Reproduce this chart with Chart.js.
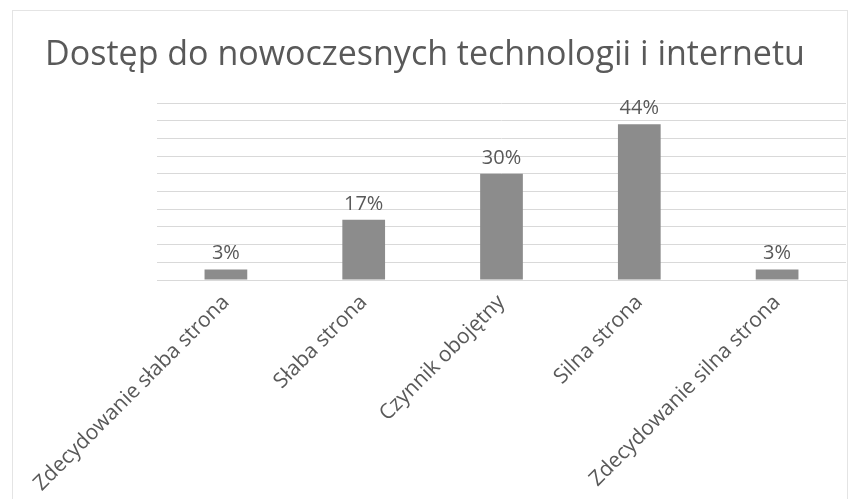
<!DOCTYPE html>
<html>
<head>
<meta charset="utf-8">
<script src="https://cdn.jsdelivr.net/npm/chart.js@4.4.1/dist/chart.umd.min.js"></script>
<style>
    html, body { margin: 0; padding: 0; background: #ffffff; }
    #wrap { position: relative; width: 849px; height: 499px; }
    #frame {
        position: absolute; left: 12px; top: 10px; width: 834px; height: 495px;
        border: 1px solid #e4e4e4;
    }
    #chart { position: absolute; left: 0; top: 0; }
</style>
</head>
<body>
<div id="wrap">
    <div id="frame"></div>
    <canvas id="chart" width="849" height="499"></canvas>
</div>
<script>
// ===============================
// DATA
// ===============================

const chartTitle = "Dostęp do nowoczesnych technologii i internetu";

const categories = [
    "Zdecydowanie słaba strona",
    "Słaba strona",
    "Czynnik obojętny",
    "Silna strona",
    "Zdecydowanie silna strona"
];

const percentValues = [3, 17, 30, 44, 3];

const axisMax = 50;
const axisStep = 5;

// ===============================
// STYLING
// ===============================

const fontFamily = "'Open Sans', 'DejaVu Sans', sans-serif";
const textGray = "#595959";
const gridGray = "#d9d9d9";
const barGray = "#8c8c8c";

// title centred on the whole canvas (not the plot area)
const centredTitle = {
    id: "centredTitle",
    afterDraw(chart) {
        const ctx = chart.ctx;
        ctx.save();
        ctx.font = "34px " + fontFamily;
        ctx.fillStyle = textGray;
        ctx.textAlign = "center";
        ctx.textBaseline = "alphabetic";
        ctx.fillText(chartTitle, 425, 65);
        ctx.restore();
    }
};

// value labels over the bars
const valueLabels = {
    id: "valueLabels",
    afterDatasetsDraw(chart) {
        const ctx = chart.ctx;
        const meta = chart.getDatasetMeta(0);
        ctx.save();
        ctx.font = "20px " + fontFamily;
        ctx.fillStyle = textGray;
        ctx.textAlign = "center";
        ctx.textBaseline = "bottom";
        meta.data.forEach((bar, i) => {
            ctx.fillText(percentValues[i] + "%", bar.x, bar.y - 6);
        });
        ctx.restore();
    }
};

new Chart(document.getElementById("chart"), {
    type: "bar",
    data: {
        labels: categories,
        datasets: [{
            data: percentValues,
            backgroundColor: barGray,
            borderWidth: 0,
            categoryPercentage: 1,
            barPercentage: 0.31
        }]
    },
    options: {
        responsive: false,
        animation: false,
        layout: {
            padding: { left: 157, right: 3, top: 103, bottom: 0 }
        },
        plugins: {
            legend: { display: false },
            tooltip: { enabled: false },
            title: { display: false }
        },
        scales: {
            x: {
                grid: { display: false },
                border: { color: gridGray, width: 1 },
                afterFit(scale) {
                    scale.height = 219;
                },
                ticks: {
                    color: textGray,
                    font: { family: fontFamily, size: 21 },
                    minRotation: 45,
                    maxRotation: 45,
                    padding: 2,
                    autoSkip: false
                }
            },
            y: {
                min: 0,
                max: axisMax,
                ticks: { display: false, stepSize: axisStep },
                border: { display: false },
                grid: { color: gridGray, drawTicks: false }
            }
        }
    },
    plugins: [valueLabels, centredTitle]
});
</script>
</body>
</html>
